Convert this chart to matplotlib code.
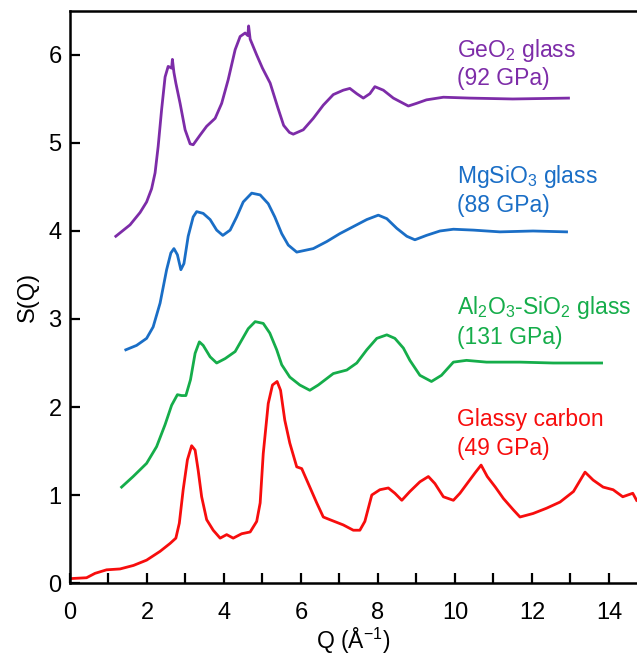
import matplotlib
matplotlib.use("Agg")
import matplotlib.pyplot as plt
from matplotlib.ticker import MultipleLocator

plt.rcParams['font.family'] = ['Liberation Sans', 'DejaVu Sans']
plt.rcParams['mathtext.fontset'] = 'custom'
plt.rcParams['mathtext.rm'] = 'Liberation Sans'
plt.rcParams['mathtext.it'] = 'Liberation Sans'

# ---- data ----
geo2_q = [1.19, 1.56, 1.82, 1.99, 2.12, 2.21, 2.29, 2.38, 2.47, 2.55, 2.60, 2.64, 2.66, 2.70, 2.75,
          2.86, 2.99, 3.12, 3.20, 3.38, 3.55, 3.77, 3.94, 4.11, 4.29, 4.42, 4.55, 4.62, 4.64, 4.68,
          4.85, 5.00, 5.20, 5.40, 5.55, 5.70, 5.80, 6.06, 6.32, 6.58, 6.84, 7.10, 7.27, 7.45, 7.62,
          7.79, 7.92, 8.14, 8.40, 8.66, 8.79, 9.00, 9.26, 9.70, 10.39, 11.5, 12.95]
geo2_s = [3.94, 4.07, 4.21, 4.33, 4.48, 4.66, 4.96, 5.38, 5.75, 5.87, 5.86, 5.85, 5.95, 5.80, 5.68,
          5.45, 5.15, 4.99, 4.98, 5.09, 5.19, 5.28, 5.45, 5.72, 6.06, 6.21, 6.25, 6.22, 6.33, 6.18,
          6.00, 5.85, 5.68, 5.40, 5.20, 5.12, 5.10, 5.15, 5.28, 5.43, 5.55, 5.60, 5.62, 5.56, 5.51,
          5.56, 5.64, 5.60, 5.51, 5.45, 5.42, 5.45, 5.49, 5.52, 5.51, 5.50, 5.51]

mgsio3_q = [1.45, 1.73, 1.99, 2.16, 2.34, 2.51, 2.62, 2.70, 2.79, 2.88, 2.96, 3.07, 3.20, 3.29, 3.46,
            3.64, 3.81, 3.97, 4.16, 4.33, 4.50, 4.72, 4.94, 5.15, 5.32, 5.50, 5.67, 5.89, 6.32,
            6.67, 7.01, 7.36, 7.71, 8.01, 8.23, 8.49, 8.75, 8.96, 9.26, 9.61, 9.96, 10.48, 11.17,
            12.03, 12.9]
mgsio3_s = [2.65, 2.70, 2.78, 2.91, 3.18, 3.56, 3.75, 3.80, 3.73, 3.56, 3.63, 3.94, 4.16, 4.22, 4.20,
            4.13, 4.01, 3.95, 4.01, 4.16, 4.33, 4.43, 4.41, 4.31, 4.16, 3.97, 3.84, 3.76, 3.80,
            3.88, 3.97, 4.05, 4.13, 4.18, 4.14, 4.03, 3.94, 3.90, 3.95, 4.00, 4.02, 4.01, 3.99,
            4.00, 3.99]

alsi_q = [1.34, 1.64, 1.99, 2.25, 2.47, 2.64, 2.79, 2.90, 3.01, 3.13, 3.25, 3.36, 3.46, 3.64, 3.81,
          4.03, 4.29, 4.46, 4.63, 4.81, 5.02, 5.19, 5.37, 5.50, 5.71, 5.97, 6.23, 6.45, 6.84,
          7.19, 7.45, 7.71, 7.97, 8.23, 8.44, 8.66, 8.83, 9.09, 9.39, 9.65, 9.96, 10.30, 10.82,
          11.69, 12.55, 13.81]
alsi_s = [1.09, 1.21, 1.36, 1.55, 1.80, 2.02, 2.14, 2.13, 2.13, 2.31, 2.61, 2.74, 2.70, 2.57, 2.50,
          2.55, 2.63, 2.76, 2.89, 2.97, 2.95, 2.84, 2.65, 2.48, 2.34, 2.25, 2.19, 2.25, 2.38,
          2.42, 2.50, 2.65, 2.78, 2.82, 2.78, 2.67, 2.53, 2.36, 2.29, 2.36, 2.51, 2.53, 2.51,
          2.51, 2.50, 2.50]

carbon_q = [0.0, 0.43, 0.65, 0.95, 1.30, 1.65, 1.99, 2.34, 2.60, 2.75, 2.84, 2.94, 3.05, 3.16, 3.25,
            3.33, 3.42, 3.55, 3.72, 3.90, 4.07, 4.24, 4.46, 4.68, 4.85, 4.94, 5.02, 5.15, 5.26,
            5.38, 5.47, 5.58, 5.71, 5.89, 6.02, 6.19, 6.41, 6.58, 6.75, 7.10, 7.36, 7.53, 7.66,
            7.84, 8.05, 8.27, 8.44, 8.62, 8.83, 9.09, 9.31, 9.48, 9.70, 9.96, 10.13, 10.35, 10.52,
            10.68, 10.84, 11.05, 11.26, 11.52, 11.69, 12.03, 12.38, 12.73, 13.08, 13.38, 13.59,
            13.85, 14.11, 14.36, 14.62, 14.72]
carbon_s = [0.05, 0.06, 0.11, 0.15, 0.16, 0.20, 0.26, 0.36, 0.45, 0.51, 0.68, 1.06, 1.40, 1.56, 1.51,
            1.28, 0.98, 0.72, 0.60, 0.51, 0.55, 0.51, 0.56, 0.58, 0.70, 0.91, 1.47, 2.04, 2.25,
            2.29, 2.19, 1.85, 1.59, 1.32, 1.30, 1.13, 0.91, 0.75, 0.72, 0.66, 0.60, 0.60, 0.70,
            1.00, 1.06, 1.08, 1.02, 0.94, 1.04, 1.15, 1.21, 1.13, 0.98, 0.94, 1.02, 1.15, 1.25,
            1.34, 1.21, 1.09, 0.96, 0.83, 0.75, 0.79, 0.85, 0.92, 1.04, 1.26, 1.17,
            1.09, 1.06, 0.98, 1.02, 0.94]

labels = [("GeO$_2$ glass", "(92 GPa)"),
          ("MgSiO$_3$ glass", "(88 GPa)"),
          ("Al$_2$O$_3$-SiO$_2$ glass", "(131 GPa)"),
          ("Glassy carbon", "(49 GPa)")]
label_x = 10.05
label_y1 = [5.98, 4.54, 3.06, 1.78]
label_y2 = [5.66, 4.22, 2.72, 1.45]

colors = ['#7D2CA8', '#1A6EC6', '#15AD4A', '#F70D0D']
series = [(geo2_q, geo2_s), (mgsio3_q, mgsio3_s), (alsi_q, alsi_s), (carbon_q, carbon_s)]

fig = plt.figure(figsize=(6.37, 6.57), dpi=100)
ax = fig.add_axes([0.1099, 0.1126, 0.8901, 0.8707])

for (q, s), c in zip(series, colors):
    ax.plot(q, s, color=c, lw=2.0, solid_joinstyle='round')

for (l1, l2), y1, y2, c in zip(labels, label_y1, label_y2, colors):
    ax.text(label_x, y1, l1, color=c, fontsize=16.5, va='baseline', ha='left')
    ax.text(label_x, y2, l2, color=c, fontsize=16.5, va='baseline', ha='left')

ax.set_xlim(0, 14.73)
ax.set_ylim(0, 6.5)
ax.xaxis.set_major_locator(MultipleLocator(2))
ax.xaxis.set_minor_locator(MultipleLocator(1))
ax.yaxis.set_major_locator(MultipleLocator(1))
ax.tick_params(axis='both', which='both', direction='in', length=7, width=1.6,
               top=False, right=False, labelsize=17)
ax.tick_params(axis='x', which='major', pad=14)
ax.tick_params(axis='y', which='major', pad=6)
ax.spines['right'].set_visible(False)
for sp in ['left', 'bottom', 'top']:
    ax.spines[sp].set_linewidth(1.8)

ax.set_xlabel('Q (Å$^{-1}$)', fontsize=16.5, labelpad=1)
ax.set_ylabel('S(Q)', fontsize=17, labelpad=7)

fig.savefig('out.png', dpi=100)
